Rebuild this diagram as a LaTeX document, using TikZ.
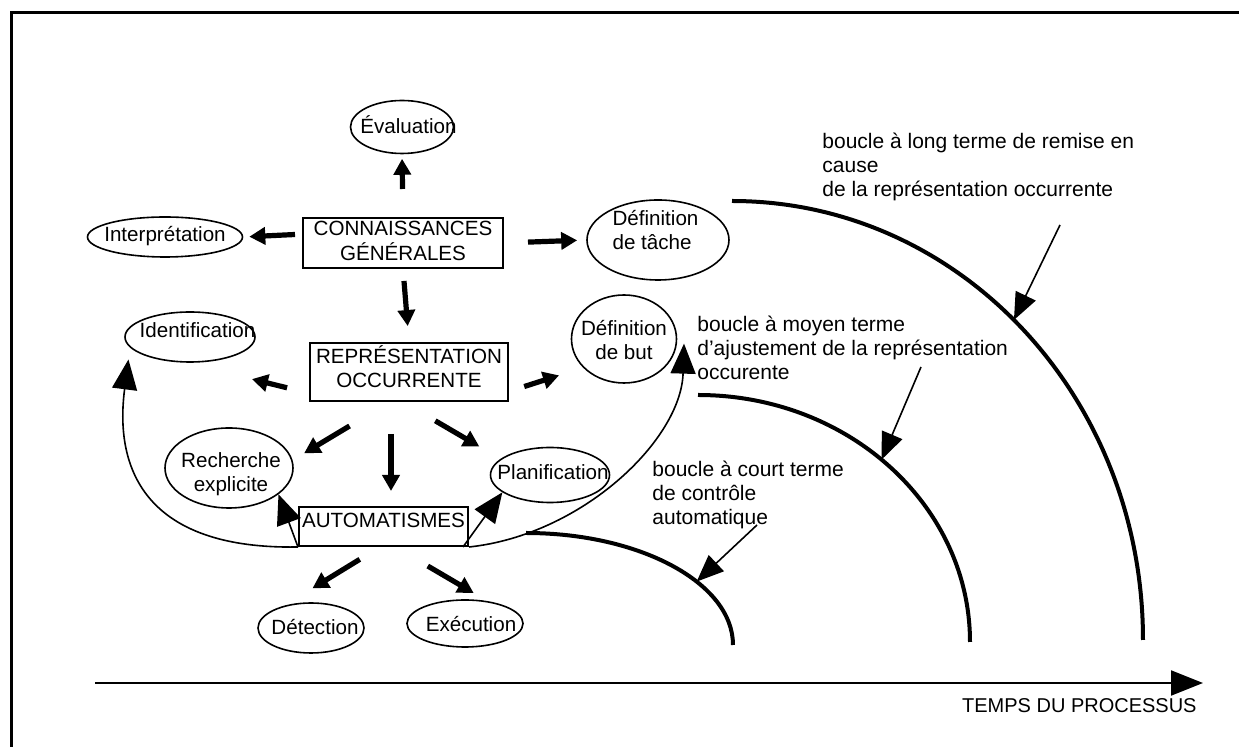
\documentclass[tikz,border=0pt]{standalone}
\usepackage{fontspec}
\setmainfont{Liberation Sans}
\usetikzlibrary{arrows.meta,shapes.geometric}

\newcommand\intext[4][c]{\makebox[0pt]{\hspace*{#2}\hspace*{#2}\smash{\raisebox{\dimexpr#3-2.5pt\relax}{$\vcenter{\hbox{\begin{tabular}{@{}#1@{}}#4\end{tabular}}}$}}}}

\begin{document}
\begin{tikzpicture}
[x=0.5pt,y=-0.5pt,every node/.style={inner sep=0pt,font=\fontsize{10.3}{12}\selectfont},
oval/.style={draw,ellipse,line width=0.8pt},
boxed/.style={draw,rectangle,line width=1pt},
fat/.style={line width=2.6pt,-{Triangle[length=8pt,width=8.5pt]}},
thinarr/.style={line width=0.8pt,-{Triangle[length=15pt,width=12.5pt]}},
pointer/.style={line width=0.8pt,-{Triangle[length=13.5pt,width=11pt]}},
loop/.style={line width=2pt},
note/.style={anchor=north west,align=left,font=\fontsize{10.5}{12}\selectfont}]
\useasboundingbox (0,0) rectangle (1239,747);
\draw[line width=1.5pt] (11,770) |- (1260,13);
\node[oval,minimum width=51.5pt,minimum height=26.5pt] (eval) at (402,127) {\intext{3.25pt}{-0.5pt}{Évaluation}};
\node[boxed,minimum width=100pt,minimum height=25pt] (connais) at (403,243) {\intext{0pt}{0pt}{CONNAISSANCES\\GÉNÉRALES}};
\node[oval,minimum width=77.5pt,minimum height=20pt] (interp) at (165,237) {\intext{0pt}{0pt}{Interprétation}};
\node[oval,minimum width=71pt,minimum height=40pt] (tache) at (658,240) {\intext[l]{-1.25pt}{3.5pt}{Définition\\de tâche}};
\node[oval,minimum width=65pt,minimum height=25pt] (ident) at (190,337) {\intext{3.75pt}{2pt}{Identification}};
\node[boxed,minimum width=99pt,minimum height=29pt] (repr) at (409,372) {\intext{0pt}{1pt}{REPRÉSENTATION\\OCCURRENTE}};
\node[oval,minimum width=52.5pt,minimum height=44pt] (but) at (624,339) {\intext{0pt}{-2pt}{Définition\\de but}};
\node[oval,minimum width=64pt,minimum height=40pt] (rech) at (229,468) {\intext{1pt}{-3.25pt}{Recherche\\explicite}};
\node[oval,minimum width=59.5pt,minimum height=27.5pt] (planif) at (550,475) {\intext{1.5pt}{0pt}{Planification}};
\node[boxed,minimum width=84.5pt,minimum height=19.5pt] (auto) at (383.5,526.5) {\intext{0pt}{1.7pt}{AUTOMATISMES}};
\node[oval,minimum width=53pt,minimum height=25pt] (detect) at (311,628) {\intext{2pt}{-1pt}{Détection}};
\node[oval,minimum width=58pt,minimum height=23.5pt] (exec) at (465,623.5) {\intext{3pt}{-1.5pt}{Exécution}};
\foreach \from/\to/\s/\e in {connais.north/eval.south/14pt/2.25pt,connais.175/interp.east/3.5pt/3pt,
  connais.east/tache.west/12pt/4.5pt,connais.south/repr.north/6pt/8pt,repr.192/ident.-99/11.3pt/34pt,
  repr.-11/but.215/8pt/12.6pt,repr.-123/rech.7/23.3pt/6.7pt,repr.-101/planif.162/18.6pt/12.2pt,
  auto.-100/detect.140/11.8pt/16.5pt,auto.-60/exec.45/18.8pt/8pt}
\draw[fat,shorten <=\s,shorten >=\e] (\from) -- (\to);
\draw[fat,shorten <=16pt,shorten >=7.5pt] ([xshift=3.75pt]auto.north |- repr.south) -- ([xshift=3.75pt]auto.north);
\draw[thinarr] (auto.south west) -- (rech.-28);
\draw[thinarr] ([xshift=-3pt]auto.south east) -- (planif.-160);
\draw[thinarr,shorten >=6pt] (auto.south west) .. controls (120,550) and (118,440) .. (ident.-170);
\draw[thinarr] (auto.south east) .. controls (582,535) and (681,440) .. ([xshift=3.5pt]but.-5);
\draw[loop] (732,201) .. controls (960,201) and (1143,397) .. (1143,640) coordinate[pos=.48] (longhit);
\draw[loop] (698,395) .. controls (849,395) and (970,506) .. (970,642) coordinate[pos=.47] (midhit);
\draw[loop] (526,533) .. controls (640,533) and (733,583) .. (733,645) coordinate[pos=.62] (shorthit);
\coordinate (longtail) at (1060,225);
\coordinate (midtail) at (921,367);
\coordinate (shorttail) at (757,525);
\foreach \from/\to in {longtail/longhit,midtail/midhit,shorttail/shorthit}
\draw[pointer] (\from) -- (\to);
\node[note] (longnote) at (822,133) {boucle à long terme de remise en\\cause\\de la représentation occurrente};
\node[note] (midnote) at (697,316) {boucle à moyen terme\\d’ajustement de la représentation\\occurente};
\node[note] (shortnote) at (652,461) {boucle à court terme\\de contrôle\\automatique};
\coordinate (t0) at (95,683);
\coordinate (t1) at (1203,683);
\draw[line width=1pt,-{Triangle[length=16pt,width=12.5pt]}] (t0) -- (t1);
\node[anchor=east,font=\fontsize{10}{12}\selectfont] (temps) at (1197,706) {TEMPS DU PROCESSUS};
\end{tikzpicture}
\end{document}
